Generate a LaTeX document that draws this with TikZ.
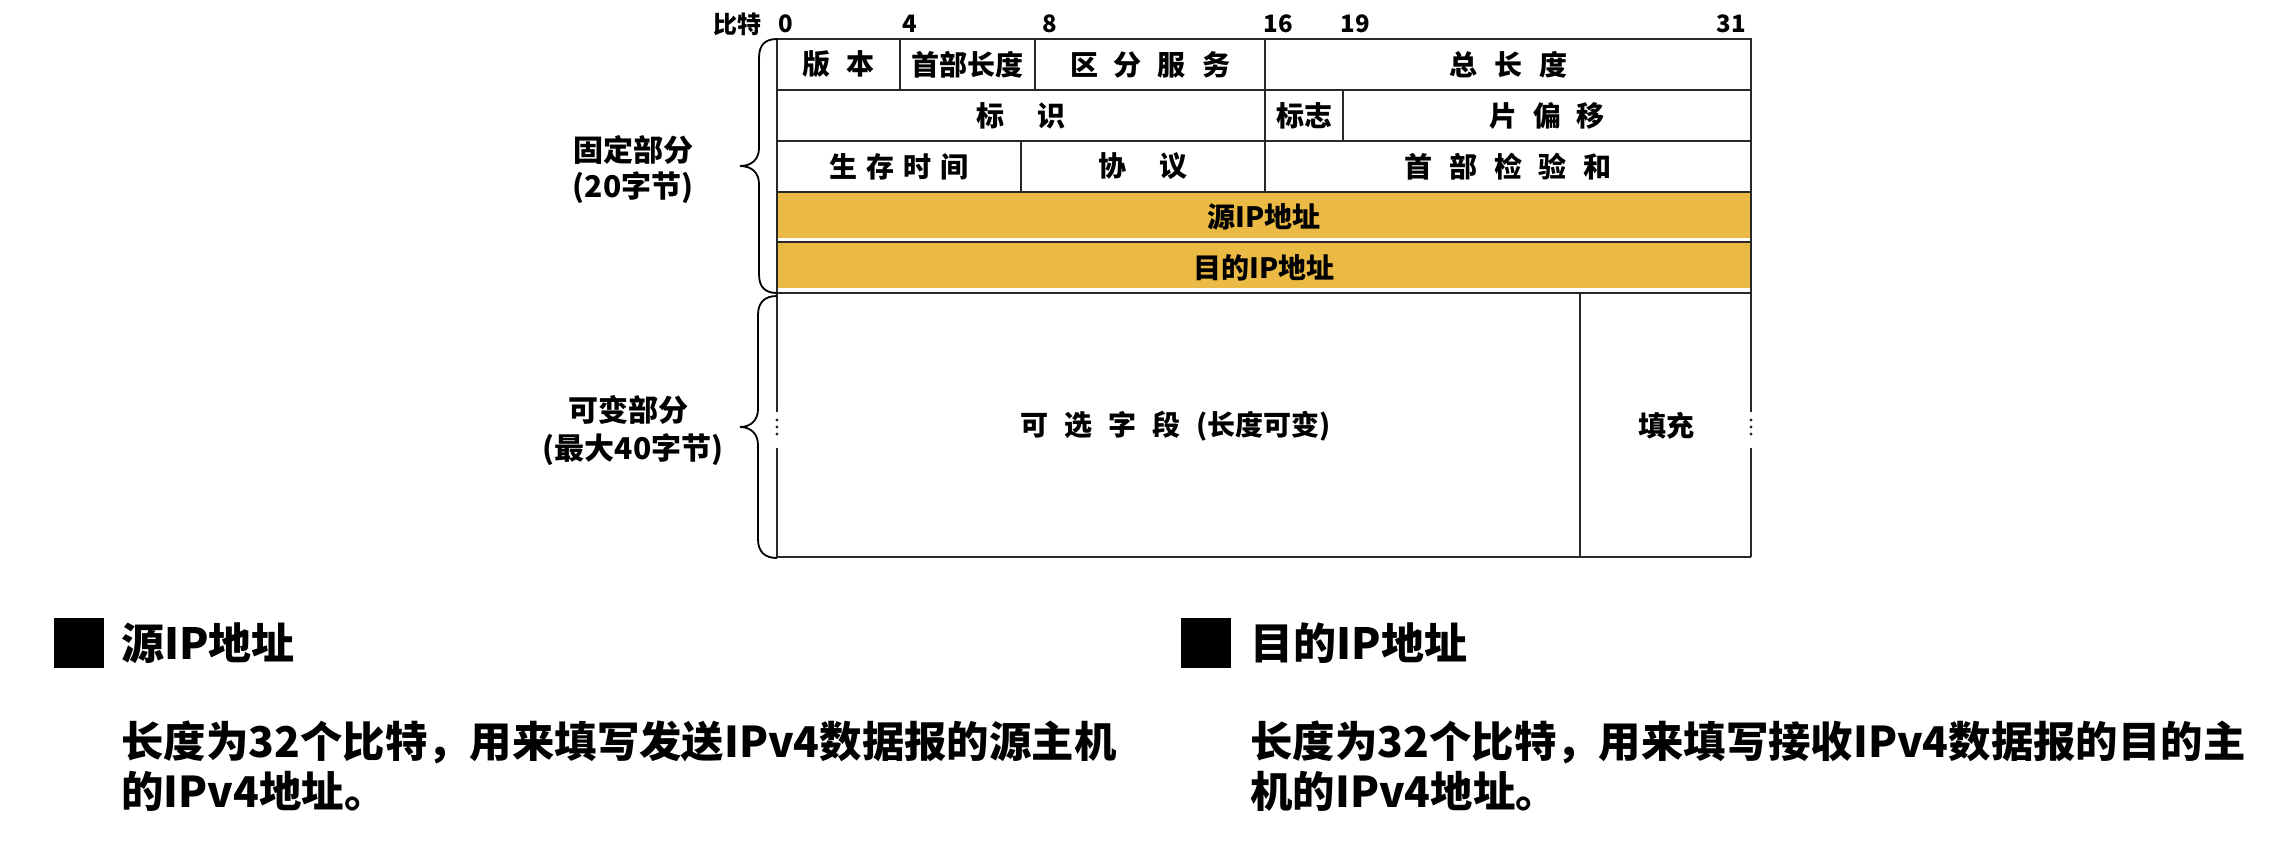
\documentclass[tikz,border=0pt]{standalone}
\usepackage{fontspec}
\setmainfont{Noto Sans CJK SC}
\definecolor{ipyellow}{RGB}{235,186,68}
\definecolor{gridline}{RGB}{40,40,40}
\newcommand\cellfont{\bfseries\fontsize{14pt}{16pt}\selectfont}
\newcommand\labfont{\bfseries\fontsize{15pt}{19pt}\selectfont}
\newcommand\bitfont{\bfseries\fontsize{12pt}{14pt}\selectfont}
\newcommand\bigfont{\bfseries\fontsize{21.5pt}{25pt}\selectfont}
\newcommand\bodyfont{\bfseries\fontsize{21.2pt}{25pt}\selectfont}
\newcommand\gp[1]{\hspace{#1pt}}
\newcommand\mkcell[7][cell]{%
  \node[#1, minimum width={(#5-#3)*0.5pt}, minimum height={(#6-#4)*0.5pt}] (#2) at ({(#3+#5)/2},{(#4+#6)/2}) {#7};}
\begin{document}
\begin{tikzpicture}[x=0.5pt,y=-0.5pt,
  cell/.style={draw=gridline, line width=0.8pt, inner sep=0pt, font=\cellfont},
  txt/.style={inner sep=0pt, font=\cellfont},
  bitlab/.style={inner sep=0pt, font=\bitfont},
  sidelab/.style={inner sep=0pt, font=\labfont},
  heading/.style={inner sep=0pt, font=\bigfont, anchor=west},
  body/.style={inner sep=0pt, font=\bodyfont, anchor=west, align=left},
  sqmark/.style={fill=black, inner sep=0pt, minimum size=25pt},
  bracestyle/.style={draw=black, line width=0.9pt},
  edge/.style={draw=gridline, line width=0.8pt},
  dotmark/.style={fill=gridline}]
\useasboundingbox (0,0) rectangle (2288,842);

% bit labels
\node[bitlab] (bitword) at (737,24) {比特};
\node[bitlab, anchor=west] (b0) at (778,24) {0};
\node[bitlab, anchor=west] (b4) at (902,24) {4};
\node[bitlab, anchor=west] (b8) at (1042,24) {8};
\node[bitlab, anchor=west] (b16) at (1263,24) {16};
\node[bitlab, anchor=west] (b19) at (1340,24) {19};
\node[bitlab, anchor=east] (b31) at (1746,24) {31};

% yellow fills
\fill[ipyellow] (777,192) rectangle (1751,238);
\fill[ipyellow] (777,242) rectangle (1751,288);

% row 1
\mkcell{ver}{777}{39}{900}{90}{版\gp{8}本}
\mkcell{ihl}{900}{39}{1035}{90}{首部长度}
\mkcell{tos}{1035}{39}{1265}{90}{区\gp{8}分\gp{8}服\gp{8}务}
\mkcell{tlen}{1265}{39}{1751}{90}{总\gp{8.5}长\gp{8.5}度}
% row 2
\mkcell{ident}{777}{90}{1265}{141}{标\gp{16.5}识}
\mkcell{flags}{1265}{90}{1343}{141}{标志}
\mkcell{frag}{1343}{90}{1751}{141}{片\gp{8}偏\gp{8}移}
% row 3
\mkcell{ttl}{777}{141}{1021}{192}{生\gp{4.5}存\gp{4.5}时\gp{4.5}间}
\mkcell{proto}{1021}{141}{1265}{192}{协\gp{16.5}议}
\mkcell{csum}{1265}{141}{1751}{192}{首\gp{8.4}部\gp{8.4}检\gp{8.4}验\gp{8.4}和}
% rows 4-5
\mkcell{src}{777}{192}{1751}{242}{源IP地址}
\mkcell{dst}{777}{242}{1751}{293}{目的IP地址}

% variable part
\node[txt] (opt) at (1176,426) {可\gp{8}选\gp{8}字\gp{8}段\gp{8}(长度可变)};
\node[txt] (pad) at (1666,426) {填充};
\coordinate (vtl) at (777,293);
\coordinate (vtr) at (1751,293);
\coordinate (vbl) at (777,557);
\coordinate (vbr) at (1751,557);
\coordinate (vdt) at (1580,293);
\coordinate (vdb) at (1580,557);
\coordinate (lg1) at (777,412);
\coordinate (lg2) at (777,448);
\coordinate (rg1) at (1751,412);
\coordinate (rg2) at (1751,448);
\draw[edge] (vtl) -- (vtr);
\draw[edge] (vbl) -- (vbr);
\draw[edge] (vdt) -- (vdb);
\draw[edge] (vtl) -- (lg1);
\draw[edge] (lg2) -- (vbl);
\draw[edge] (vtr) -- (rg1);
\draw[edge] (rg2) -- (vbr);
\foreach \yy in {420,427,434} {
  \fill[dotmark] (777,\yy) circle (0.85pt);
  \fill[dotmark] (1751,\yy) circle (0.85pt);
}

% braces
\draw[bracestyle] (777,39) .. controls (765,39) and (759,45) .. (759,58) -- (759,148)
  .. controls (759,159) and (752,166) .. (740,166) .. controls (752,166) and (759,173) .. (759,184)
  -- (759,274) .. controls (759,287) and (765,293) .. (777,293);
\draw[bracestyle] (777,296) .. controls (765,296) and (758,302) .. (758,315) -- (758,409)
  .. controls (758,420) and (751,427) .. (740,427) .. controls (751,427) and (758,434) .. (758,445)
  -- (758,539) .. controls (758,552) and (765,558) .. (777,558);

% side labels
\node[sidelab] (fix1) at (633,150) {固定部分};
\node[sidelab] (fix2) at (633,188) {(20字节)};
\node[sidelab] (var1) at (628,410) {可变部分};
\node[sidelab] (var2) at (633,450) {(最大40字节)};

% bottom explanations
\node[sqmark] (sq1) at (79,643) {};
\node[heading] (h1) at (121,643) {源IP地址};
\node[body] (t1) at (121,766) {长度为32个比特，用来填写发送IPv4数据报的源主机\\的IPv4地址。};
\node[sqmark] (sq2) at (1206,643) {};
\node[heading] (h2) at (1250,643) {目的IP地址};
\node[body] (t2) at (1250,766) {长度为32个比特，用来填写接收IPv4数据报的目的主\\机的IPv4地址。};
\end{tikzpicture}
\end{document}
